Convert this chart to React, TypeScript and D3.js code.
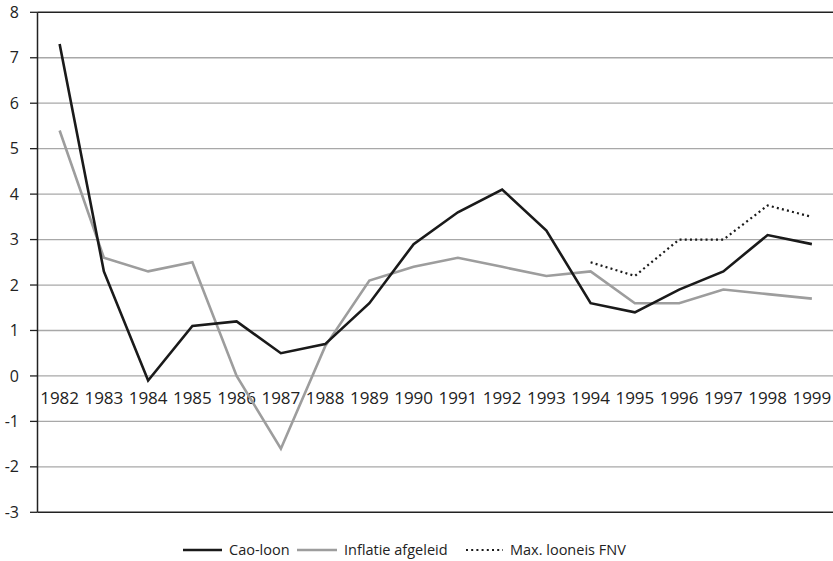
import React from "react";
import * as d3 from "d3";

const years = ["1982","1983","1984","1985","1986","1987","1988","1989","1990","1991","1992","1993","1994","1995","1996","1997","1998","1999"];
const caoLoon = [7.3, 2.3, -0.1, 1.1, 1.2, 0.5, 0.7, 1.6, 2.9, 3.6, 4.1, 3.2, 1.6, 1.4, 1.9, 2.3, 3.1, 2.9];
const inflatie = [5.4, 2.6, 2.3, 2.5, 0.0, -1.6, 0.65, 2.1, 2.4, 2.6, 2.4, 2.2, 2.3, 1.6, 1.6, 1.9, 1.8, 1.7];
const fnv: (number | null)[] = [null, null, null, null, null, null, null, null, null, null, null, null, 2.5, 2.2, 3.0, 3.0, 3.75, 3.5];
const yTicks = [8, 7, 6, 5, 4, 3, 2, 1, 0, -1, -2, -3];

const W = 833, H = 561;
const left = 37.5, right = 834, top = 12.3, bottom = 512.3;
const FONT = "'Open Sans', sans-serif";

export default function App() {
  const x = d3.scaleBand<string>().domain(years).range([left, right]);
  const y = d3.scaleLinear().domain([-3, 8]).range([bottom, top]);
  const cx = (i: number) => (x(years[i]) as number) + x.bandwidth() / 2;
  const line = d3.line<number | null>()
    .defined((d) => d !== null)
    .x((_, i) => cx(i))
    .y((d) => y(d as number));

  const legend = [
    { label: "Cao-loon", x1: 183, x2: 222, color: "#1a1a1a", dash: undefined, w: 2.6 },
    { label: "Inflatie afgeleid", x1: 297, x2: 337, color: "#9d9d9d", dash: undefined, w: 2.6 },
    { label: "Max. looneis FNV", x1: 466, x2: 503, color: "#1a1a1a", dash: "2,3.2", w: 2 },
  ];

  return (
    <svg width={W} height={H} style={{ position: "absolute", left: 0, top: 0, background: "#fff" }}>
      {yTicks.map((t) => (
        <g key={t}>
          <line x1={left} x2={W} y1={y(t)} y2={y(t)}
            stroke={t === 8 || t === -3 ? "#222" : "#a8a8a8"} strokeWidth={t === 8 || t === -3 ? 1.5 : 1.3} />
          <line x1={30} x2={left} y1={y(t)} y2={y(t)} stroke="#222" strokeWidth={1.3} />
          <text x={19} y={y(t)} dy="0.35em" textAnchor="end" fontFamily={FONT} fontSize={16} fill="#222">{t}</text>
        </g>
      ))}
      <line x1={left} x2={left} y1={top} y2={bottom} stroke="#222" strokeWidth={1.5} />
      {years.map((yr, i) => (
        <text key={yr} x={cx(i)} y={y(0) + 28} textAnchor="middle" fontFamily={FONT} fontSize={17} fill="#222">{yr}</text>
      ))}
      <path d={line(inflatie) || ""} fill="none" stroke="#9d9d9d" strokeWidth={2.6} strokeLinejoin="miter" />
      <path d={line(caoLoon) || ""} fill="none" stroke="#1a1a1a" strokeWidth={2.6} strokeLinejoin="miter" />
      <path d={line(fnv) || ""} fill="none" stroke="#1a1a1a" strokeWidth={2.2} strokeDasharray="2,3.2" />
      {legend.map((l) => (
        <g key={l.label}>
          <line x1={l.x1} x2={l.x2} y1={550} y2={550} stroke={l.color} strokeWidth={l.w} strokeDasharray={l.dash} />
          <text x={l.x2 + 7} y={550} dy="0.35em" fontFamily={FONT} fontSize={14.5} fill="#222">{l.label}</text>
        </g>
      ))}
    </svg>
  );
}
